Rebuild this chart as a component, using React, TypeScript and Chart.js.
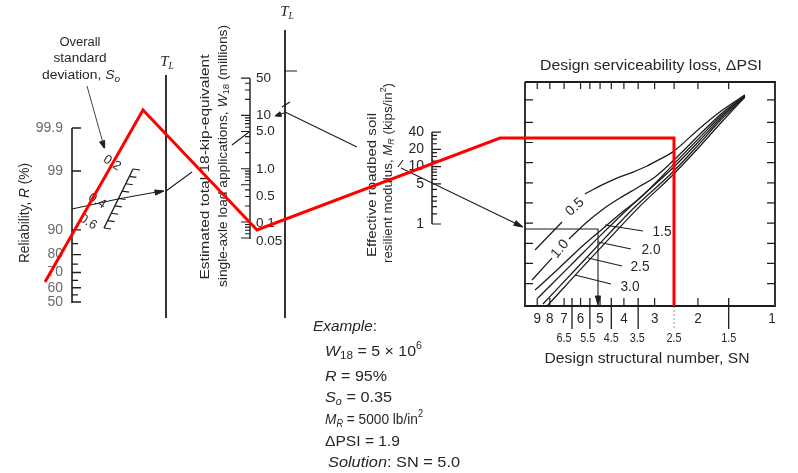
import { useEffect, useRef } from 'react';
import { Chart, registerables } from 'chart.js';
Chart.register(...registerables);

const reliabilityTicks = [99.9, 99, 90, 85, 80, 75, 70, 65, 60, 55, 50];
const reliabilityLabelValues = [99.9, 99, 90, 80, 70, 60, 50];
const reliabilityLabels = ['99.9', '99', '90', '80', '70', '60', '50'];

const soTicks = [0.2, 0.25, 0.3, 0.35, 0.4, 0.45, 0.5, 0.55, 0.6];
const soLabels = ['0.2', '0.4', '0.6'];

const w18Ticks = [0.05, 0.06, 0.07, 0.08, 0.09, 0.1, 0.2, 0.3, 0.4, 0.5, 0.6, 0.7, 0.8, 0.9, 1, 2, 3, 4, 5, 6, 7, 8, 9, 10, 20, 30, 40, 50];
const w18LabelValues = [50, 10, 5, 1, 0.5, 0.1, 0.05];
const w18Labels = ['50', '10', '5.0', '1.0', '0.5', '0.1', '0.05'];

const mrTicks = [1, 1.5, 2, 2.5, 3, 4, 5, 6, 7, 8, 9, 10, 12.5, 15, 17.5, 20, 25, 30, 35, 40];
const mrLabelValues = [40, 20, 10, 5, 1];
const mrLabels = ['40', '20', '10', '5', '1'];

const snTicks = [9, 8, 7, 6, 5, 4, 3, 2];
const snHalfTicks = [6.5, 5.5, 4.5, 3.5, 1.5];
const snTopTicks = [9, 8, 7, 6, 5.5, 5, 4.5, 4, 3.5, 3, 2.5, 2, 1.5];
const snLabelValues = [9, 8, 7, 6, 5, 4, 3, 2, 1];
const snLabels = ['9', '8', '7', '6', '5', '4', '3', '2', '1'];
const snHalfLabelValues = [6.5, 5.5, 4.5, 3.5, 2.5, 1.5];
const snHalfLabels = ['6.5', '5.5', '4.5', '3.5', '2.5', '1.5'];
// unlabeled turning-line ticks of the box (fraction of box height)
const boxRowTicks = [0.1, 0.19, 0.28, 0.37, 0.46, 0.55, 0.64, 0.73, 0.82, 0.92];

// design serviceability loss curves: SN along x, fraction of box height along y (null = gap for label)
const psiLabels = ['0.5', '1.0', '1.5', '2.0', '2.5', '3.0'];
const psiCurveSN: (number | null)[][] = [
  [9.19, 7.14, null, 5.76, 5.0, 4.27, 3.67, 3.22, 2.85, 2.53, 1.96, 1.63, 1.29],
  [9.45, 7.84, null, 6.69, 5.65, 4.91, 4.15, 3.54, 2.99, 2.53, 1.96, 1.63, 1.29],
  [9.19, 7.48, 6.2, 5.0, 4.15, 3.44, 2.53, 1.96, 1.63, 1.29],
  [8.94, 6.62, 5.0, 3.78, 2.53, 1.96, 1.63, 1.29],
  [8.53, 6.32, 4.77, 3.61, 2.53, 1.96, 1.63, 1.29],
  [8.21, 6.03, 4.56, 3.44, 2.53, 1.96, 1.63, 1.29],
];
const psiCurveH: (number | null)[][] = [
  [0.25, 0.375, null, 0.5, 0.536, 0.571, 0.598, 0.625, 0.656, 0.688, 0.795, 0.866, 0.942],
  [0.116, 0.214, null, 0.299, 0.375, 0.429, 0.482, 0.527, 0.576, 0.647, 0.768, 0.853, 0.942],
  [0.071, 0.161, 0.246, 0.335, 0.411, 0.482, 0.629, 0.754, 0.844, 0.9375],
  [0.036, 0.179, 0.313, 0.442, 0.616, 0.741, 0.835, 0.9375],
  [0.009, 0.161, 0.304, 0.442, 0.598, 0.728, 0.826, 0.933],
  [0.0, 0.161, 0.304, 0.446, 0.585, 0.714, 0.8125, 0.933],
];

// worked example annotation lines (sheet units)
const exampleSoX = [72, 118, 162];
const exampleSoY = [209, 199, 191];
const exampleW18X = [166, 192, null, 232, 249];
const exampleW18Y = [191, 172, null, 145, 132];
const exampleMRX = [285, 357, null, 401, 521];
const exampleMRY = [112, 147, null, 168, 226];
const exampleBoxX = [525, 598, 598];
const exampleBoxY = [229, 229, 303];

// red overlay path (sheet units)
const redPathX = [45, 143, 257, 500, 674, 674];
const redPathY = [282, 110, 230, 138, 138, 306];

// ---------------- geometry of the nomograph sheet ----------------
const G = {
  rX: 72, rZeroY: 302, rPerZ: 56.3,
  tl1X: 166, tl1Top: 75, tl1Bottom: 318,
  tl2X: 285, tl2Top: 30, tl2Bottom: 318,
  wX: 250, wRefY: 222, wPerDecade: 53.3,
  mX: 432, mOneY: 224, mPerDecade: 57.4,
  soTop: { x: 133, y: 169 }, soBottom: { x: 104, y: 228 },
  bL: 525, bT: 82, bR: 775, bB: 306, snOneX: 772, snPerDecade: 246,
};
const INK = '#1d1d1d';
const TEXT = '#272727';

type P = { x: number; y: number };
const GAP: P = { x: NaN, y: NaN };

function zOf(p: number) {
  const t = Math.sqrt(-2 * Math.log(1 - p));
  return t - (2.515517 + 0.802853 * t + 0.010328 * t * t) / (1 + 1.432788 * t + 0.189269 * t * t + 0.001308 * t * t * t);
}
const yR = (v: number) => G.rZeroY - G.rPerZ * zOf(v / 100);
const yW = (v: number) => G.wRefY - G.wPerDecade * Math.log10(v / 0.1);
const yM = (v: number) => G.mOneY - G.mPerDecade * Math.log10(v);
const xSN = (v: number) => G.snOneX - G.snPerDecade * Math.log10(v);
const yH = (h: number) => G.bB - (G.bB - G.bT) * h;
const soPt = (v: number): P => {
  const t = (v - 0.2) / 0.4;
  return { x: G.soTop.x + (G.soBottom.x - G.soTop.x) * t, y: G.soTop.y + (G.soBottom.y - G.soTop.y) * t };
};

function joinSegs(segs: P[][]): P[] {
  const out: P[] = [];
  segs.forEach((s, i) => {
    if (i) out.push(GAP);
    out.push(...s);
  });
  return out;
}
function zipPts(xs: (number | null)[], ys: (number | null)[]): P[] {
  return xs.map((x, i) => (x === null || ys[i] === null ? GAP : { x: x as number, y: ys[i] as number }));
}
function lineDs(data: P[], width: number, extra: Record<string, unknown> = {}) {
  return {
    type: 'line', data, borderColor: INK, borderWidth: width, pointRadius: 0, fill: false,
    tension: 0, spanGaps: false, order: 1, ...extra,
  };
}
function arrowHead(tip: P, from: P, len = 7, half = 2.6) {
  const dx = tip.x - from.x, dy = tip.y - from.y;
  const L = Math.hypot(dx, dy);
  const ux = dx / L, uy = dy / L;
  const bx = tip.x - ux * len, by = tip.y - uy * len;
  const pts = [{ x: bx - uy * half, y: by + ux * half }, tip, { x: bx + uy * half, y: by - ux * half }, { x: bx - uy * half, y: by + ux * half }];
  return lineDs(pts, 1, { fill: 'shape', backgroundColor: INK });
}

function buildDatasets() {
  const ds: any[] = [];
  // red overlay on top
  ds.push(lineDs(zipPts(redPathX, redPathY), 3, { borderColor: '#ff0000', order: 0, borderJoinStyle: 'miter', borderCapStyle: 'butt' }));

  // reliability axis
  ds.push(lineDs([{ x: G.rX, y: yR(99.9) }, { x: G.rX, y: yR(50) + 1 }], 1.6));
  ds.push(lineDs(joinSegs(reliabilityTicks.map(v => [
    { x: G.rX, y: yR(v) }, { x: G.rX + (reliabilityLabelValues.includes(v) ? 9 : 6), y: yR(v) },
  ])), 1.3));

  // standard deviation scale
  ds.push(lineDs([soPt(0.2), soPt(0.6)], 1.4));
  ds.push(lineDs(joinSegs(soTicks.map(v => { const p = soPt(v); return [p, { x: p.x + 7, y: p.y + 1 }]; })), 1.2));

  // turning lines T_L
  ds.push(lineDs([{ x: G.tl1X, y: G.tl1Top }, { x: G.tl1X, y: G.tl1Bottom }], 1.8));
  ds.push(lineDs([{ x: G.tl2X, y: G.tl2Top }, { x: G.tl2X, y: G.tl2Bottom }], 1.8));
  ds.push(lineDs(joinSegs([
    [{ x: G.tl2X, y: 71 }, { x: G.tl2X + 12, y: 71 }],
    [{ x: G.tl2X - 3, y: 107 }, { x: G.tl2X + 5, y: 102 }],
  ]), 1.2));

  // W18 axis
  ds.push(lineDs([{ x: G.wX, y: yW(50) }, { x: G.wX, y: yW(0.05) + 1 }], 1.4));
  ds.push(lineDs(joinSegs(w18Ticks.map(v => [
    { x: G.wX, y: yW(v) }, { x: G.wX - (w18LabelValues.includes(v) ? 9 : 5), y: yW(v) },
  ])), 1.1));

  // MR axis
  ds.push(lineDs([{ x: G.mX, y: yM(40) }, { x: G.mX, y: yM(1) }], 1.5));
  ds.push(lineDs(joinSegs(mrTicks.map(v => [
    { x: G.mX, y: yM(v) }, { x: G.mX + (mrLabelValues.includes(v) ? 9 : 5), y: yM(v) },
  ])), 1.2));

  // SN box
  ds.push(lineDs([
    { x: G.bL, y: G.bT }, { x: G.bR, y: G.bT }, { x: G.bR, y: G.bB }, { x: G.bL, y: G.bB }, { x: G.bL, y: G.bT },
  ], 1.8));
  ds.push(lineDs(joinSegs([
    ...snTopTicks.map(v => [{ x: xSN(v), y: G.bT }, { x: xSN(v), y: G.bT + 7 }]),
    ...snTicks.map(v => [{ x: xSN(v), y: G.bB }, { x: xSN(v), y: G.bB - 8 }]),
    ...boxRowTicks.map(h => [{ x: G.bL, y: yH(h) }, { x: G.bL + 8, y: yH(h) }]),
    ...boxRowTicks.map(h => [{ x: G.bR, y: yH(h) }, { x: G.bR - 8, y: yH(h) }]),
  ]), 1.2));
  ds.push(lineDs(joinSegs(snHalfTicks.map(v => [{ x: xSN(v), y: G.bB - 8 }, { x: xSN(v), y: G.bB + 23 }])), 1.3));
  ds.push(lineDs([{ x: xSN(2.5), y: G.bB }, { x: xSN(2.5), y: G.bB + 24 }], 1, { borderColor: '#9a9a9a', borderDash: [2, 2] }));

  // serviceability curves
  psiCurveSN.forEach((c, i) => {
    const pts = c.map((sn, j) => (sn === null || psiCurveH[i][j] === null ? GAP : { x: xSN(sn), y: yH(psiCurveH[i][j] as number) }));
    ds.push(lineDs(pts, 1.3, { cubicInterpolationMode: 'monotone' }));
  });
  // label leaders
  ds.push(lineDs(joinSegs([
    [{ x: 605, y: 225 }, { x: 643, y: 231 }],
    [{ x: 598, y: 242 }, { x: 631, y: 249 }],
    [{ x: 588, y: 258 }, { x: 622, y: 266 }],
    [{ x: 575, y: 275 }, { x: 611, y: 284 }],
  ]), 1.1));

  // worked example
  ds.push(lineDs([{ x: 87, y: 86 }, { x: 103, y: 143 }], 1, { borderColor: '#444' }));
  ds.push(arrowHead({ x: 104, y: 148 }, { x: 87, y: 86 }));
  ds.push(lineDs(zipPts(exampleSoX, exampleSoY), 1.1));
  ds.push(arrowHead({ x: 164, y: 191 }, { x: 118, y: 199 }, 9, 2.6));
  ds.push(lineDs(zipPts(exampleW18X, exampleW18Y), 1.1));
  ds.push(lineDs([{ x: 284, y: 113 }, { x: 278, y: 115 }], 1.1));
  ds.push(arrowHead({ x: 275, y: 116 }, { x: 284, y: 113 }, 6, 2.4));
  ds.push(lineDs(zipPts(exampleMRX, exampleMRY), 1.1));
  ds.push(lineDs([{ x: 398, y: 167 }, { x: 403, y: 160 }], 1.1));
  ds.push(arrowHead({ x: 523, y: 227 }, { x: 401, y: 168 }, 9, 2.6));
  ds.push(lineDs(zipPts(exampleBoxX, exampleBoxY), 1.1));
  ds.push(arrowHead({ x: 598, y: 305 }, { x: 598, y: 229 }, 9, 2.6));
  return ds;
}

// ---------------- text ----------------
type Run = { t: string; size?: number; dy?: number; italic?: boolean; serif?: boolean };
interface TOpt { size: number; align?: 'left' | 'center' | 'right'; rot?: number; width?: number; color?: string; italic?: boolean; serif?: boolean }

function drawRuns(ctx: CanvasRenderingContext2D, runs: Run[], x: number, y: number, o: TOpt) {
  const fontOf = (r: Run) => `${(r.italic ?? o.italic) ? 'italic ' : ''}${r.size ?? o.size}px ${(r.serif ?? o.serif) ? '"Liberation Serif", serif' : '"Liberation Sans", Arial, sans-serif'}`;
  let total = 0;
  const ws = runs.map(r => { ctx.font = fontOf(r); const w = ctx.measureText(r.t).width; total += w; return w; });
  const sx = o.width ? o.width / total : 1;
  ctx.save();
  ctx.translate(x, y);
  if (o.rot) ctx.rotate((o.rot * Math.PI) / 180);
  ctx.scale(sx, 1);
  let cx = o.align === 'center' ? -total / 2 : o.align === 'right' ? -total : 0;
  ctx.fillStyle = o.color ?? TEXT;
  ctx.textBaseline = 'middle';
  ctx.textAlign = 'left';
  runs.forEach((r, i) => { ctx.font = fontOf(r); ctx.fillText(r.t, cx, r.dy ?? 0); cx += ws[i]; });
  ctx.restore();
}
const T = (t: string, more: Partial<Run> = {}): Run => ({ t, ...more });

const textPlugin = {
  id: 'nomoText',
  beforeDatasetsDraw(chart: any) {
    const ctx: CanvasRenderingContext2D = chart.ctx;
    const X = (v: number) => chart.scales.x.getPixelForValue(v);
    const Y = (v: number) => chart.scales.y.getPixelForValue(v);
    const put = (runs: Run[], x: number, y: number, o: TOpt) => drawRuns(ctx, runs, X(x), Y(y), o);

    // standard deviation caption
    put([T('Overall')], 80, 43, { size: 12.5, align: 'center', width: 41 });
    put([T('standard')], 80, 59, { size: 12.5, align: 'center', width: 53 });
    put([T('deviation, '), T('S', { italic: true }), T('o', { italic: true, size: 9, dy: 3 })], 81, 76, { size: 12.5, align: 'center', width: 78 });

    // T_L labels
    const tl = [T('T', { italic: true, serif: true }), T('L', { italic: true, serif: true, size: 9.5, dy: 4 })];
    put(tl, 167, 62, { size: 15, align: 'center' });
    put(tl, 287, 12, { size: 15, align: 'center' });

    // reliability
    put([T('Reliability, '), T('R', { italic: true }), T(' (%)')], 25, 213, { size: 14, align: 'center', rot: -90, width: 100 });
    reliabilityLabels.forEach((l, i) => put([T(l)], 63, yR(reliabilityLabelValues[i]), { size: 14, align: 'right', color: '#6a6a6a' }));

    // standard deviation labels
    const soLabelPos = [{ x: 112, y: 163 }, { x: 97, y: 201 }, { x: 88, y: 222 }];
    soLabels.forEach((l, i) => put([T(l)], soLabelPos[i].x, soLabelPos[i].y, { size: 13, align: 'center', rot: 32 }));

    // W18
    put([T('Estimated total 18-kip-equivalent')], 205, 167, { size: 13.5, align: 'center', rot: -90, width: 225 });
    put([T('single-axle load applications, '), T('W', { italic: true }), T('18', { size: 9.5, dy: 3 }), T(' (millions)')], 223, 156, { size: 13.5, align: 'center', rot: -90, width: 262 });
    const w18Nudge = [0, 0, 0, 1, 12, 1, 3];
    w18Labels.forEach((l, i) => put([T(l)], 256, yW(w18LabelValues[i]) + w18Nudge[i], { size: 13.5, align: 'left' }));

    // MR
    put([T('Effective roadbed soil')], 372, 185, { size: 13.5, align: 'center', rot: -90, width: 144 });
    put([T('resilient modulus, '), T('M', { italic: true }), T('R', { italic: true, size: 9, dy: 3 }), T(' (kips/in'), T('2', { size: 9, dy: -4 }), T(')')], 388, 173, { size: 13.5, align: 'center', rot: -90, width: 180 });
    mrLabels.forEach((l, i) => put([T(l)], 424, yM(mrLabelValues[i]), { size: 14, align: 'right' }));

    // SN box texts
    put([T('Design serviceability loss, \u0394PSI')], 651, 66, { size: 14.5, align: 'center', width: 222 });
    snLabels.forEach((l, i) => put([T(l)], xSN(snLabelValues[i]), 319, { size: 14, align: 'center', width: 7.5 }));
    const halfNudge = [-8, -2, 0, -1, 0, 0];
    snHalfLabels.forEach((l, i) => put([T(l)], xSN(snHalfLabelValues[i]) + halfNudge[i], 338, { size: 13.5, align: 'center', width: 15 }));
    put([T('Design structural number, SN')], 647, 359, { size: 15, align: 'center', width: 205 });
    put([T(psiLabels[0])], 575, 207, { size: 14, align: 'center', rot: -42 });
    put([T(psiLabels[1])], 560, 249, { size: 14, align: 'center', rot: -50 });
    const psiLabelPos = [{ x: 662, y: 232 }, { x: 651, y: 250 }, { x: 640, y: 267 }, { x: 630, y: 287 }];
    psiLabelPos.forEach((p, i) => put([T(psiLabels[i + 2])], p.x, p.y, { size: 14, align: 'center', width: 19 }));

    // example block
    put([T('Example', { italic: true }), T(':')], 313, 327, { size: 15, align: 'left', width: 64 });
    put([T('W', { italic: true }), T('18', { size: 11, dy: 4 }), T(' = 5 \u00d7 10'), T('6', { size: 10, dy: -6 })], 325, 352, { size: 15, align: 'left', width: 97 });
    put([T('R', { italic: true }), T(' = 95%')], 325, 377, { size: 15, align: 'left', width: 62 });
    put([T('S', { italic: true }), T('o', { italic: true, size: 10, dy: 4 }), T(' = 0.35')], 325, 398, { size: 15, align: 'left', width: 67 });
    put([T('M', { italic: true }), T('R', { italic: true, size: 10, dy: 4 }), T(' = 5000 lb/in'), T('2', { size: 10, dy: -6 })], 325, 420, { size: 15, align: 'left', width: 98 });
    put([T('\u0394PSI = 1.9')], 325, 442, { size: 15, align: 'left', width: 75 });
    put([T('Solution', { italic: true }), T(': SN = 5.0')], 328, 463, { size: 15, align: 'left', width: 132 });
  },
};

export default function App() {
  const ref = useRef<HTMLCanvasElement>(null);
  useEffect(() => {
    const canvas = ref.current;
    if (!canvas) return;
    const chart = new Chart(canvas, {
      type: 'line',
      data: { datasets: buildDatasets() as any },
      options: {
        animation: false,
        responsive: false,
        maintainAspectRatio: false,
        events: [],
        layout: { padding: 0 },
        plugins: { legend: { display: false }, tooltip: { enabled: false } },
        elements: { point: { radius: 0 } },
        scales: {
          x: { type: 'linear', min: 0, max: 798, display: false },
          y: { type: 'linear', min: 0, max: 473, reverse: true, display: false },
        },
      },
      plugins: [textPlugin],
    });
    return () => chart.destroy();
  }, []);
  return (
    <div style={{ position: 'absolute', left: 0, top: 0, width: 798, height: 473, background: '#fff' }}>
      <canvas ref={ref} width={798} height={473} style={{ display: 'block', width: 798, height: 473 }} />
    </div>
  );
}
